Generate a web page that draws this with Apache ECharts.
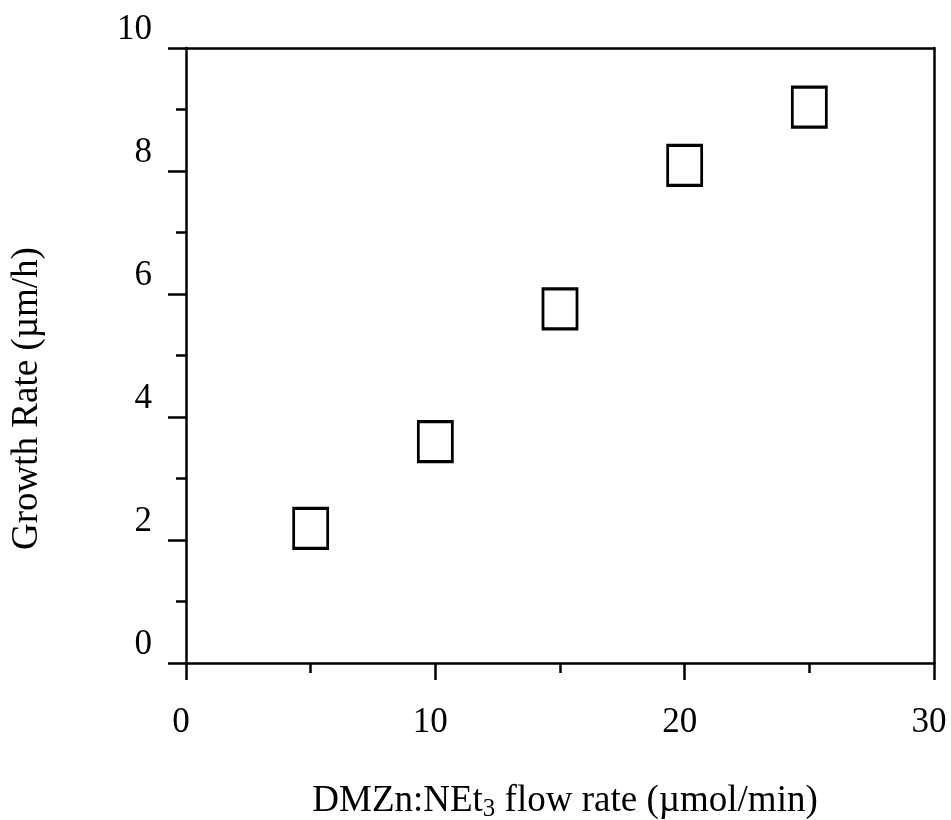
<!DOCTYPE html>
<html>
<head>
<meta charset="utf-8">
<title>Growth rate vs DMZn:NEt3 flow rate</title>
<script src="https://cdn.jsdelivr.net/npm/echarts@6/dist/echarts.min.js"></script>
<style>
  html, body { margin: 0; padding: 0; background: #fff; }
  #main { width: 951px; height: 820px; }
</style>
</head>
<body>
<div id="main"></div>
<script>
  // flow rate (umol/min) and growth rate (um/h)
  var flowRate = [5, 10, 15, 20, 25];
  var growthRate = [2.19, 3.60, 5.76, 8.09, 9.04];

  var font = 'Liberation Serif, Times New Roman, serif';
  var lineW = 2.5;

  var points = flowRate.map(function (x, i) { return [x, growthRate[i]]; });

  var option = {
    backgroundColor: '#fff',
    animation: false,
    grid: { left: 186, right: 17, top: 48, bottom: 157, containLabel: false, outerBoundsMode: 'none' },
    xAxis: [{
      type: 'value',
      min: 0, max: 30, interval: 10,
      name: 'DMZn:NEt{sub|3} flow rate (µmol/min)',
      nameLocation: 'middle',
      nameGap: 117,
      nameTextStyle: {
        fontFamily: font, fontSize: 37, color: '#000', padding: [0, 0, 0, 10],
        rich: {
          sub: { fontFamily: font, fontSize: 25, color: '#000', padding: [17, 0, 0, 0] }
        }
      },
      axisLine: { show: true, onZero: false, lineStyle: { color: '#000', width: lineW } },
      axisTick: { show: true, length: 17, lineStyle: { color: '#000', width: lineW } },
      minorTick: { show: true, splitNumber: 2, length: 10, lineStyle: { color: '#000', width: lineW } },
      axisLabel: { fontFamily: font, fontSize: 35, color: '#000', margin: 42, padding: [0, 10, 0, 0] },
      splitLine: { show: false }
    }, {
      type: 'value', position: 'top',
      min: 0, max: 30,
      axisLine: { show: true, onZero: false, lineStyle: { color: '#000', width: lineW } },
      axisTick: { show: false }, axisLabel: { show: false }, splitLine: { show: false }
    }],
    yAxis: [{
      type: 'value',
      min: 0, max: 10, interval: 2,
      name: 'Growth Rate (µm/h)',
      nameLocation: 'middle',
      nameRotate: 90,
      nameGap: 140,
      nameTextStyle: { fontFamily: font, fontSize: 37, color: '#000', padding: [0, 86, 0, 0] },
      axisLine: { show: true, onZero: false, lineStyle: { color: '#000', width: lineW } },
      axisTick: { show: true, length: 18, lineStyle: { color: '#000', width: lineW } },
      minorTick: { show: true, splitNumber: 2, length: 10, lineStyle: { color: '#000', width: lineW } },
      axisLabel: { fontFamily: font, fontSize: 35, color: '#000', margin: 34, verticalAlign: 'bottom', padding: [0, 0, 1, 0] },
      splitLine: { show: false }
    }, {
      type: 'value', position: 'right',
      min: 0, max: 10,
      axisLine: { show: true, onZero: false, lineStyle: { color: '#000', width: lineW } },
      axisTick: { show: false }, axisLabel: { show: false }, splitLine: { show: false }
    }],
    series: [{
      type: 'scatter',
      data: points,
      symbol: 'rect',
      symbolSize: [34, 40],
      itemStyle: { color: '#fff', borderColor: '#000', borderWidth: 3, opacity: 1 }
    }]
  };

  var chart = echarts.init(document.getElementById('main'));
  chart.setOption(option);
</script>
</body>
</html>
